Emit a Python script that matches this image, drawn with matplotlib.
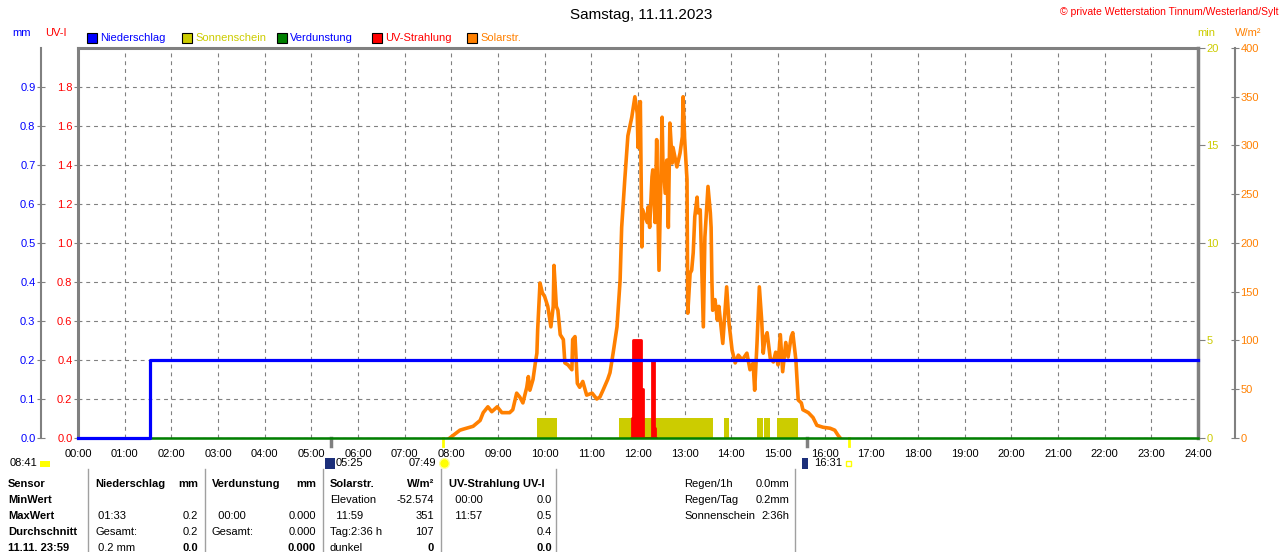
import numpy as np
import matplotlib
matplotlib.use("Agg")
import matplotlib.pyplot as plt
from matplotlib.patches import Rectangle
from matplotlib.lines import Line2D

plt.rcParams['font.family'] = ['Liberation Sans', 'DejaVu Sans']

# Data (times in minutes after midnight)
solar_min = [478, 491, 495, 508, 517, 521, 527, 532, 539, 545, 555, 559, 564, 568, 572,
             577, 579, 581, 585, 588, 590, 591, 594, 597, 600, 604, 608, 611, 612, 615,
             617, 620, 624, 626, 630, 635, 636, 639, 642, 645, 649, 654, 661, 667, 671,
             675, 681, 684, 688, 693, 697, 699, 703, 707, 712, 716, 719, 720, 723, 725,
             726, 732, 733, 735, 738, 739, 742, 744, 747, 751, 752, 755, 757, 759, 761,
             764, 765, 770, 774, 777, 778, 780, 783, 784, 787, 789, 791, 793, 796, 797,
             800, 804, 806, 810, 813, 814, 815, 816, 819, 822, 824, 829, 834, 837, 841,
             845, 849, 854, 860, 864, 868, 870, 873, 876, 879, 881, 883, 886, 890, 894,
             897, 900, 903, 906, 910, 913, 917, 919, 923, 926, 930, 932, 939, 945, 950,
             958, 967, 973, 977, 980]
solar_val = [0, 8, 9, 12, 18, 26, 32, 27, 32, 26, 26, 29, 46, 42, 36,
             52, 63, 49, 60, 77, 87, 111, 159, 149, 145, 135, 114, 135, 177, 135,
             131, 106, 101, 77, 75, 70, 101, 104, 56, 52, 58, 44, 46, 40, 42,
             49, 60, 67, 87, 114, 162, 216, 265, 310, 329, 350, 333, 298, 345, 196,
             234, 221, 237, 216, 268, 275, 221, 306, 172, 329, 285, 251, 285, 216, 323,
             282, 298, 278, 292, 309, 350, 306, 265, 128, 169, 172, 190, 227, 247, 231,
             234, 114, 206, 258, 231, 216, 162, 131, 142, 121, 135, 97, 155, 118, 90,
             77, 85, 80, 87, 70, 77, 49, 97, 155, 121, 87, 101, 108, 82, 78,
             88, 75, 106, 68, 98, 83, 104, 108, 80, 39, 36, 29, 26, 21, 13,
             11, 10, 8, 3, 0]

uv_min = [711, 712, 713, 714, 724, 726, 738, 741, 742, 743]
uv_val = [0.0, 0.1, 0.35, 0.5, 0.25, 0.0, 0.4, 0.05, 0.0, 0.0]

sun_start = [590, 696, 831, 873, 882, 899]
sun_end = [616, 816, 837, 881, 890, 926]

rain_min = [0, 93, 1440]
rain_val = [0.0, 0.2, 0.2]

evap_min = [0, 1440]
evap_val = [0.0, 0.0]

moon_rise, moon_set = 5 * 60 + 25, 15 * 60 + 37
sun_rise, sun_set = 7 * 60 + 49, 16 * 60 + 31

legend_labels = ["Niederschlag", "Sonnenschein", "Verdunstung", "UV-Strahlung", "Solarstr."]
legend_colors = ["#0000FF", "#CCCC00", "#008000", "#FF0000", "#FF8000"]
legend_text_colors = ["#0000FF", "#CCCC00", "#0000FF", "#FF0000", "#FF8000"]

row_labels = ["Sensor", "MinWert", "MaxWert", "Durchschnitt", "11.11. 23:59"]
rain_left = ["Niederschlag", "", " 01:33", "Gesamt:", " 0.2 mm"]
rain_right = ["mm", "", "0.2", "0.2", "0.0"]
evap_left = ["Verdunstung", "", "  00:00", "Gesamt:", ""]
evap_right = ["mm", "", "0.000", "0.000", "0.000"]
solar_left = ["Solarstr.", "Elevation", "  11:59", "Tag:2:36 h", "dunkel"]
solar_right = ["W/m²", "-52.574", "351", "107", "0"]
uv_left = ["UV-Strahlung UV-I", "  00:00", "  11:57", "", ""]
uv_right = ["", "0.0", "0.5", "0.4", "0.0"]
info_labels = ["Regen/1h", "Regen/Tag", "Sonnenschein"]
info_values = ["0.0mm", "0.2mm", "2:36h"]

GRAY = "#808080"
W, H = 1280, 552

fig = plt.figure(figsize=(W / 100, H / 100), dpi=100)
fig.patch.set_facecolor("white")


def ftxt(x, y, s, **kw):
    kw.setdefault("fontsize", 8)
    kw.setdefault("va", "center")
    fig.text(x / W, 1 - y / H, s, **kw)


ax = fig.add_axes([78 / W, 1 - 438 / H, 1120 / W, 390 / H])
ax.set_xlim(0, 24)
ax.set_ylim(0, 2.0)
ax.set_xticks(range(25))
ax.set_xticklabels(["%02d:00" % h for h in range(25)])
ax.set_yticks(np.arange(0, 1.81, 0.2))
ax.set_yticklabels(["%.1f" % v for v in np.arange(0, 1.81, 0.2)])
ax.tick_params(axis="x", length=0, pad=8, labelsize=8)
ax.tick_params(axis="y", length=3, color=GRAY, labelcolor="#FF0000", labelsize=8, pad=1)
ax.grid(True, color=GRAY, linestyle=(0, (3.5, 3.5)), linewidth=0.8)
for side, lw in [("left", 2.2), ("top", 2.2), ("right", 2.5), ("bottom", 1.0)]:
    ax.spines[side].set_color(GRAY)
    ax.spines[side].set_linewidth(lw)


def twin():
    t = ax.twinx()
    for s in t.spines.values():
        s.set_visible(False)
    t.set_xlim(0, 24)
    return t


# sunshine minutes
ax_min = twin()
ax_min.set_ylim(0, 20)
ax_min.set_yticks([0, 5, 10, 15, 20])
ax_min.tick_params(axis="y", length=5, color=GRAY, labelcolor="#CCCC00", labelsize=8, pad=1)
ax_min.bar(np.array(sun_start) / 60, 1.05, width=(np.array(sun_end) - np.array(sun_start)) / 60,
           align="edge", color="#CCCC00", linewidth=0)

# solar radiation
ax_w = twin()
ax_w.set_ylim(0, 400)
ax_w.spines["right"].set_visible(True)
ax_w.spines["right"].set_position(("outward", 37 * 0.72))
ax_w.spines["right"].set_color(GRAY)
ax_w.spines["right"].set_linewidth(1.5)
ax_w.set_yticks(range(0, 401, 50))
ax_w.tick_params(axis="y", direction="inout", length=6, color=GRAY, labelcolor="#FF8000",
                 labelsize=8, pad=1)
ax_w.plot(np.array(solar_min) / 60, solar_val, color="#FF8000", linewidth=2.6)

# UV index
ax_uv = twin()
ax_uv.set_ylim(0, 2.0)
ax_uv.set_yticks([])
ax_uv.fill_between(np.array(uv_min) / 60, uv_val, step="post", facecolor="#FF0000",
                   edgecolor="#FF0000", linewidth=2)

# rain and evaporation
ax_mm = twin()
ax_mm.set_ylim(0, 1.0)
ax_mm.yaxis.tick_left()
ax_mm.spines["left"].set_visible(True)
ax_mm.spines["left"].set_position(("outward", 37 * 0.72))
ax_mm.spines["left"].set_color(GRAY)
ax_mm.spines["left"].set_linewidth(1.5)
ax_mm.set_yticks(np.arange(0, 0.91, 0.1))
ax_mm.set_yticklabels(["%.1f" % v for v in np.arange(0, 0.91, 0.1)])
ax_mm.tick_params(axis="y", direction="inout", length=6, color=GRAY, labelcolor="#0000FF",
                  labelsize=8, pad=1)
ax_mm.plot(np.array(evap_min) / 60, evap_val, color="#008000", linewidth=1.8, clip_on=False)
ax_mm.step(np.array(rain_min) / 60, rain_val, where="post", color="#0000FF", linewidth=2.3,
           clip_on=False)

# sun / moon marks below the axis
tr = ax.get_xaxis_transform()
for t, c, lw in [(moon_rise, GRAY, 2.5), (moon_set, GRAY, 2.5), (sun_rise, "#FFFF00", 2), (sun_set, "#FFFF00", 2)]:
    ax.plot([t / 60, t / 60], [0, -0.02], color=c, linewidth=lw, transform=tr, clip_on=False)

# header texts
ftxt(641, 15, "Samstag, 11.11.2023", fontsize=11, ha="center")
ftxt(1278, 12, "© private Wetterstation Tinnum/Westerland/Sylt", color="#FF0000", ha="right", fontsize=7.5)
ftxt(22, 33, "mm", color="#0000FF", ha="center")
ftxt(56, 33, "UV-I", color="#FF0000", ha="center")
ftxt(1206, 33, "min", color="#CCCC00", ha="center")
ftxt(1248, 33, "W/m²", color="#FF8000", ha="center")

for i, (lab, c, tc) in enumerate(zip(legend_labels, legend_colors, legend_text_colors)):
    x0 = 87 + 95 * i
    fig.add_artist(Rectangle((x0 / W, 1 - 43 / H), 10 / W, 10 / H, transform=fig.transFigure,
                             facecolor=c, edgecolor="black", linewidth=0.8))
    ftxt(x0 + 13, 38, lab, color=tc)

# sun / moon info line
ftxt(10, 463, "08:41")
fig.add_artist(Rectangle((40 / W, 1 - 467 / H), 10 / W, 6 / H, transform=fig.transFigure,
                         facecolor="#FFFF00", edgecolor="none"))
fig.add_artist(Rectangle((325 / W, 1 - 469 / H), 10 / W, 11 / H, transform=fig.transFigure,
                         facecolor="#1C2F7A", edgecolor="none"))
ftxt(336, 463, "05:25")
ftxt(436, 463, "07:49", ha="right")
fig.add_artist(Line2D([444 / W], [1 - 463 / H], marker="o", markersize=7, color="#FFFF00",
                      markeredgecolor="#FFFF99", transform=fig.transFigure))
fig.add_artist(Rectangle((802 / W, 1 - 469 / H), 6 / W, 11 / H, transform=fig.transFigure,
                         facecolor="#1C2F7A", edgecolor="none"))
ftxt(814, 463, "16:31")
fig.add_artist(Rectangle((846 / W, 1 - 466 / H), 5 / W, 5 / H, transform=fig.transFigure,
                         facecolor="white", edgecolor="#FFFF00", linewidth=1))

# table
rows_y = [484, 500, 516, 532, 548]
for y, lab in zip(rows_y, row_labels):
    ftxt(8, y, lab, fontweight="bold")
columns = [(95, 198, rain_left, rain_right), (212, 316, evap_left, evap_right),
           (330, 434, solar_left, solar_right), (449, 552, uv_left, uv_right)]
for xl, xr, lefts, rights in columns:
    for i, (y, l, r) in enumerate(zip(rows_y, lefts, rights)):
        wl = "bold" if i == 0 else "normal"
        wr = "bold" if i in (0, 4) else "normal"
        if l:
            ftxt(xl, y, l, fontweight=wl)
        if r:
            ftxt(xr, y, r, fontweight=wr, ha="right")
for y, l, v in zip(rows_y, info_labels, info_values):
    ftxt(684, y, l)
    ftxt(789, y, v, ha="right")
for x in [88, 205, 323, 441, 556, 795]:
    fig.add_artist(Line2D([x / W, x / W], [1 - 469 / H, 0], color="#A0A0A0", linewidth=1,
                          transform=fig.transFigure))

fig.savefig("out.png", dpi=100)
